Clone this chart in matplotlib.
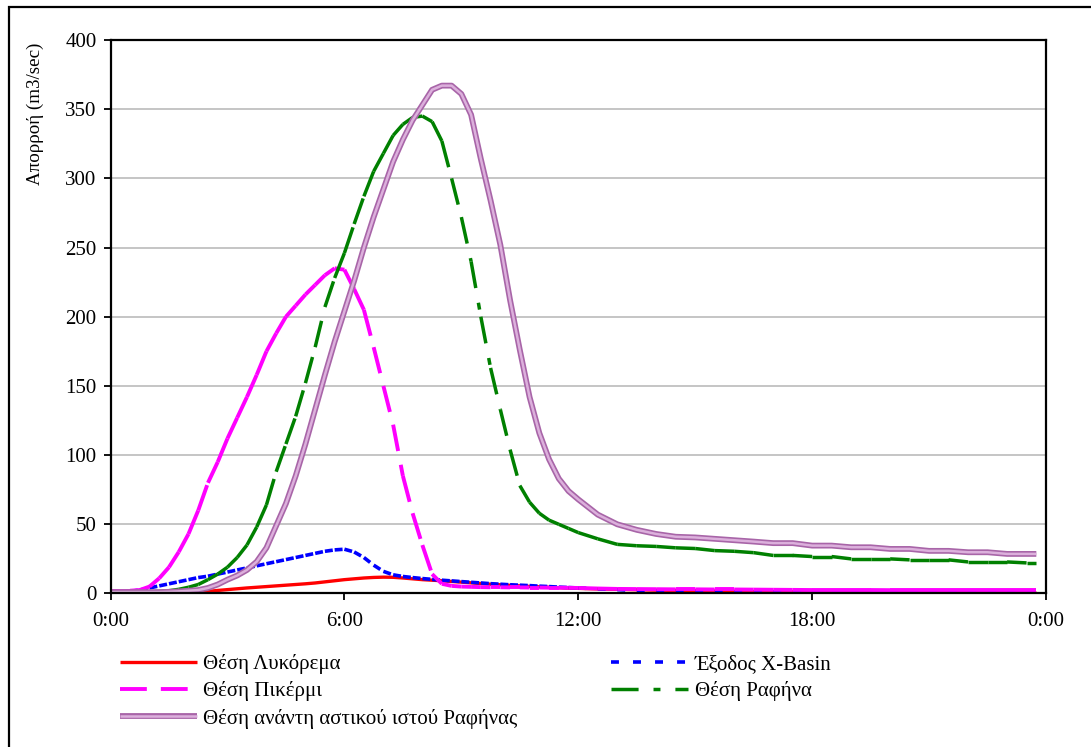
import numpy as np
import matplotlib
matplotlib.use("Agg")
import matplotlib.pyplot as plt
from matplotlib import patheffects as pe
from matplotlib.patches import Rectangle
from matplotlib.collections import LineCollection
from matplotlib.lines import Line2D

plt.rcParams['font.family'] = ['Liberation Serif', 'DejaVu Serif']

# Time axis in hours: quarter-hour steps up to 12:00, half-hour steps afterwards
hours = list(np.arange(0, 12.01, 0.25)) + list(np.arange(12.5, 23.51, 0.5)) + [23.75]

lykorema = [0, 0, 0, 0, 0, 0, 0, 0.1,
            0.3, 0.8, 1.5, 2.2, 2.8, 3.4, 4, 4.5, 5, 5.5, 6, 6.5, 7, 7.6, 8.4, 9.2,
            10, 10.6, 11.2, 11.6, 11.8, 11.7, 11.2, 10.6, 10, 9.6, 9.2, 8.7,
            8.2, 7.7, 7.2, 6.7, 6.3, 5.9, 5.5, 5.1, 4.8, 4.5, 4.2, 3.9, 3.7,
            3.3, 3.0, 2.7, 2.4, 2.2, 2.0, 1.8, 1.6, 1.4, 1.3, 1.2, 1.1,
            1.0, 1.0, 0.9, 0.9, 0.8, 0.8, 0.7, 0.7, 0.7, 0.6, 0.6, 0.6]

xbasin = [1, 1, 1.5, 2.5, 4, 5.5, 7, 8.5,
          10, 11.5, 12.5, 14, 15.5, 17, 18.5, 20, 21.5, 23, 24.5, 26, 27.5, 29, 30.5, 31.5,
          32, 30, 26, 20.5, 16, 13.5, 12.3, 11.5, 10.8, 10.2, 9.6, 9.1,
          8.6, 8.1, 7.6, 7.1, 6.7, 6.3, 6, 5.7, 5.3, 5, 4.6, 4.3, 4,
          3.4, 2.8, 2.2, 1.8, 1.5, 1.3, 1.1, 1.0, 0.9, 0.9, 0.8, 0.8,
          0.7, 0.7, 0.7, 0.6, 0.6, 0.6, 0.6, 0.5, 0.5, 0.5, 0.5, 0.5]

pikermi = [2, 2, 2, 2.5, 5, 11, 19, 30,
           43, 60, 80, 95, 112, 127, 142, 158, 175, 188, 200, 208, 216, 223, 230, 235,
           234, 220, 205, 178, 150, 122, 85, 58, 35, 14, 7, 5.5,
           5, 4.8, 4.6, 4.5, 4.5, 4.4, 4.4, 4.3, 4.3, 4.2, 4.2, 4.1, 4,
           3.6, 3.3, 3.2, 3.1, 3.0, 3.0, 2.9, 2.9, 2.8, 2.7, 2.6, 2.5,
           2.5, 2.5, 2.5, 2.4, 2.4, 2.4, 2.4, 2.4, 2.4, 2.4, 2.4, 2.4]

rafina = [1, 1, 1, 1, 1.2, 1.5, 2, 3,
          4.5, 6.5, 10, 14, 19, 26, 35, 48, 64, 88, 108, 128, 152, 178, 207, 228,
          246, 267, 287, 305, 318, 331, 339, 344, 345, 341, 327, 300,
          272, 240, 200, 163, 133, 104, 78, 66, 58, 53, 50, 47, 44,
          39.5, 35.5, 34.5, 34, 33, 32.5, 31, 30.5, 29.5, 27.5, 27.5, 26.7,
          26.7, 25, 25, 25, 24.3, 24.3, 24.3, 22.8, 22.8, 22.8, 22.1, 22.1]

upstream = [1, 1, 1, 1, 1, 1, 1.2, 1.5,
            2, 2.5, 4, 6.5, 10, 13, 17, 23, 33, 49, 65, 85, 108, 133, 158, 182,
            204, 226, 250, 272, 292, 312, 328, 342, 353, 364, 367, 367,
            361, 346, 314, 284, 252, 212, 176, 142, 116, 97, 83, 74, 68,
            57, 50, 46, 43, 41, 40.5, 39.5, 38.5, 37.5, 36.4, 36.4, 34.6,
            34.6, 33.4, 33.4, 32.2, 32.2, 30.8, 30.8, 29.8, 29.8, 28.6, 28.6, 28.6]

labels = ["Θέση Λυκόρεμα", "Έξοδος X-Basin", "Θέση Πικέρμι", "Θέση Ραφήνα",
          "Θέση ανάντη αστικού ιστού Ραφήνας"]

xticks = [0, 6, 12, 18, 24]
xticklabels = ["0:00", "6:00", "12:00", "18:00", "0:00"]
yticks = [0, 50, 100, 150, 200, 250, 300, 350, 400]

fig = plt.figure(figsize=(10.91, 7.47), dpi=100)
ax = fig.add_axes([0.1013, 0.2055, 0.8575, 0.741])


def dashed_series(x, y, color, lw, dashes, z):
    """Dashed series whose dash pattern restarts at every data point."""
    pts = np.column_stack([x, y])
    segs = np.stack([pts[:-1], pts[1:]], axis=1)
    lc = LineCollection(segs, colors=color, linewidths=lw,
                        linestyles=[(0, dashes)], capstyle='butt', zorder=z)
    ax.add_collection(lc)
    return Line2D([], [], color=color, lw=lw, dashes=dashes, solid_capstyle='butt')


l_red, = ax.plot(hours, lykorema, color='#ff0000', lw=2.4, solid_capstyle='butt', zorder=2.1)
l_blue = dashed_series(hours, xbasin, '#0000ff', 2.6, (2.2, 3.9), 2.2)
l_pink = dashed_series(hours, pikermi, '#ff00ff', 2.8, (6.9, 3.6), 2.3)
l_green = dashed_series(hours, rafina, '#008000', 2.5, (7.8, 4.3, 2.0, 4.3), 2.4)
purple_fx = [pe.Stroke(linewidth=4.2, foreground='#a865a8'), pe.Normal()]
l_purple, = ax.plot(hours, upstream, color='#dcb0dc', lw=1.8, solid_capstyle='butt',
                    path_effects=purple_fx, zorder=2.5)

ax.set_xlim(0, 24)
ax.set_ylim(0, 400)
ax.set_xticks(xticks)
ax.set_xticklabels(xticklabels)
ax.set_yticks(yticks)
ax.yaxis.grid(True, color='#c0c0c0', lw=1.3)
ax.set_axisbelow(True)
for s in ax.spines.values():
    s.set_color('black')
    s.set_linewidth(1.6)
ax.tick_params(axis='both', direction='out', length=5, width=1.3, labelsize=15, colors='black')
ax.tick_params(axis='y', pad=5)
ax.tick_params(axis='x', pad=8)

fig.text(35 / 1091, 1 - 114 / 747, "Απορροή (m3/sec)", rotation=90, ha='center', va='center',
         fontsize=13.7)

handles = [l_red, l_pink, l_purple, l_blue, l_green]
hl = [labels[0], labels[2], labels[4], labels[1], labels[3]]
leg = fig.legend(handles, hl, ncol=2, loc='upper left', bbox_to_anchor=(120 / 1091, 1 - 654 / 747),
                 frameon=False, fontsize=15, handlelength=3.7, handletextpad=0.3,
                 columnspacing=4.5, labelspacing=0.35, borderpad=0, borderaxespad=0)

# outer chart frame
fig.add_artist(Rectangle((9 / 1091, -0.05), 1.2, 1 - 7 / 747 + 0.05, transform=fig.transFigure,
                         fill=False, edgecolor='black', lw=1.6))

fig.savefig("out.png", dpi=100)
